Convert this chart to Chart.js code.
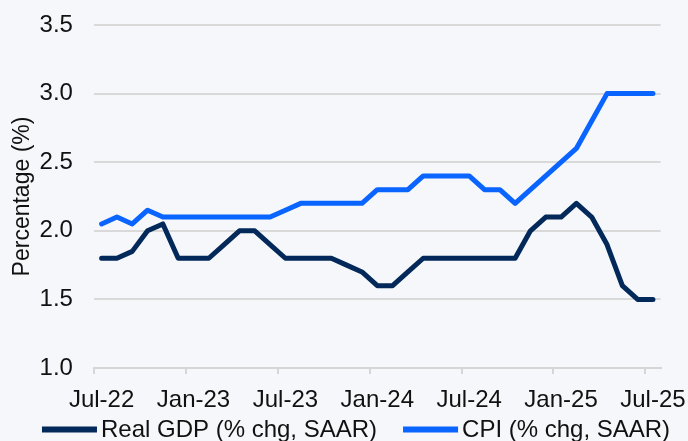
<!DOCTYPE html>
<html>
<head>
<meta charset="utf-8">
<script src="https://cdn.jsdelivr.net/npm/chart.js@4"></script>
<style>
  html, body { margin: 0; padding: 0; background: #f5f7fa; }
  #wrap { width: 688px; height: 441px; }
</style>
</head>
<body>
<div id="wrap"><canvas id="c" width="688" height="441"></canvas></div>
<script>
const categories = ["Jul-22","Aug-22","Sep-22","Oct-22","Nov-22","Dec-22",
  "Jan-23","Feb-23","Mar-23","Apr-23","May-23","Jun-23",
  "Jul-23","Aug-23","Sep-23","Oct-23","Nov-23","Dec-23",
  "Jan-24","Feb-24","Mar-24","Apr-24","May-24","Jun-24",
  "Jul-24","Aug-24","Sep-24","Oct-24","Nov-24","Dec-24",
  "Jan-25","Feb-25","Mar-25","Apr-25","May-25","Jun-25","Jul-25"];
const realGDP = [1.8,1.8,1.85,2.0,2.05,1.8,1.8,1.8,1.9,2.0,2.0,1.9,
  1.8,1.8,1.8,1.8,1.75,1.7,1.6,1.6,1.7,1.8,1.8,1.8,
  1.8,1.8,1.8,1.8,2.0,2.1,2.1,2.2,2.1,1.9,1.6,1.5,1.5];
const cpi = [2.05,2.1,2.05,2.15,2.1,2.1,2.1,2.1,2.1,2.1,2.1,2.1,
  2.15,2.2,2.2,2.2,2.2,2.2,2.3,2.3,2.3,2.4,2.4,2.4,
  2.4,2.3,2.3,2.2,2.3,2.4,2.5,2.6,2.8,3.0,3.0,3.0,3.0];
const seriesNames = ["Real GDP (% chg, SAAR)", "CPI (% chg, SAAR)"];
const yTitle = "Percentage (%)";
const yMin = 1.0, yMax = 3.5, yStep = 0.5;
const labelEvery = 6;

const colGDP = "#03295a";
const colCPI = "#0a64ff";
const FONT = "'Liberation Sans', Arial, sans-serif";

// Legend drawn below the axis: line swatch + label, Excel-like spacing
const bottomLegend = {
  id: "bottomLegend",
  afterDraw(chart) {
    const ctx = chart.ctx;
    const swatch = 55, gapText = 4, gapItem = 26;
    ctx.save();
    ctx.font = "24px " + FONT;
    ctx.textBaseline = "alphabetic";
    ctx.textAlign = "left";
    const items = chart.data.datasets.map(ds => ({
      text: ds.label, color: ds.borderColor, w: ctx.measureText(ds.label).width
    }));
    let x = chart.chartArea.left - 52;
    const yMid = chart.height - 11.5;
    items.forEach(it => {
      ctx.fillStyle = it.color;
      ctx.fillRect(x, yMid - 3, swatch, 6);
      x += swatch + gapText;
      ctx.fillStyle = "#111";
      ctx.fillText(it.text, x, chart.height - 4);
      x += it.w + gapItem;
    });
    ctx.restore();
  }
};

new Chart(document.getElementById("c"), {
  type: "line",
  data: {
    labels: categories,
    datasets: [
      { label: seriesNames[0], data: realGDP, borderColor: colGDP, backgroundColor: colGDP,
        borderWidth: 5, pointRadius: 0, tension: 0, borderJoinStyle: "round", borderCapStyle: "round" },
      { label: seriesNames[1], data: cpi, borderColor: colCPI, backgroundColor: colCPI,
        borderWidth: 5, pointRadius: 0, tension: 0, borderJoinStyle: "round", borderCapStyle: "round" }
    ]
  },
  plugins: [bottomLegend],
  options: {
    responsive: false,
    animation: false,
    layout: { padding: { top: 25, right: 27, left: 0, bottom: 15 } },
    plugins: {
      tooltip: { enabled: false },
      legend: { display: false }
    },
    scales: {
      x: {
        offset: true,
        grid: {
          offset: true,
          drawOnChartArea: false,
          drawTicks: true,
          tickLength: 6,
          lineWidth: 2,
          color: (ctx) => (ctx.index % labelEvery === 0 ? "#d6d6d6" : "rgba(0,0,0,0)")
        },
        border: { display: true, color: "#d6d6d6", width: 2 },
        ticks: {
          autoSkip: false,
          maxRotation: 0,
          minRotation: 0,
          padding: 2,
          color: "#111",
          font: { family: FONT, size: 24, lineHeight: 2.0 },
          callback: function (v, i) { return i % labelEvery === 0 ? categories[i] : ""; }
        }
      },
      y: {
        min: yMin, max: yMax,
        grid: { color: "#d9d9d9", lineWidth: 2, drawTicks: true, tickLength: 18, tickColor: "rgba(0,0,0,0)" },
        border: { display: false },
        ticks: {
          stepSize: yStep,
          padding: 3,
          color: "#111",
          font: { family: FONT, size: 24 },
          callback: (v) => v.toFixed(1)
        },
        title: {
          display: true, text: yTitle, color: "#111",
          font: { family: FONT, size: 23 }, padding: { top: 9, bottom: 0 }
        }
      }
    }
  }
});
</script>
</body>
</html>
